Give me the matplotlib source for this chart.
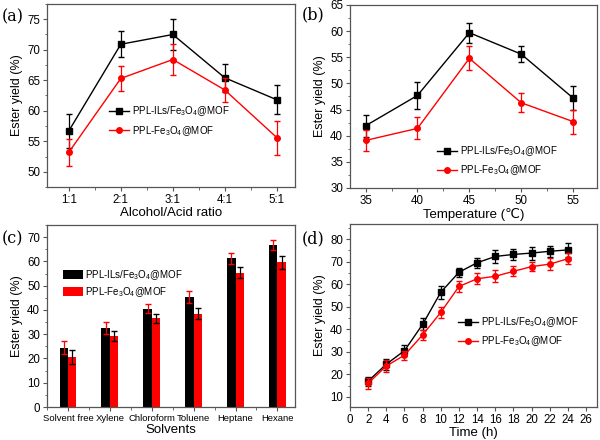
import numpy as np
import matplotlib
matplotlib.use('Agg')
import matplotlib.pyplot as plt
from matplotlib.ticker import MultipleLocator

plt.rcParams['font.family'] = ['Liberation Sans', 'DejaVu Sans']
plt.rcParams['mathtext.fontset'] = 'custom'
plt.rcParams['mathtext.rm'] = 'Liberation Sans'

lab_ils = r'PPL-ILs/Fe$_3$O$_4$@MOF'
lab_fe = r'PPL-Fe$_3$O$_4$@MOF'

# (a) alcohol/acid ratio
ratio_labels = ['1:1', '2:1', '3:1', '4:1', '5:1']
ratio_ils = [56.7, 70.9, 72.5, 65.4, 61.8]
ratio_ils_err = [2.8, 2.1, 2.5, 2.3, 2.4]
ratio_fe = [53.2, 65.3, 68.4, 63.4, 55.6]
ratio_fe_err = [2.2, 2.1, 2.5, 1.9, 2.8]

# (b) temperature
temps = [35, 40, 45, 50, 55]
temp_ils = [41.9, 47.7, 59.7, 55.6, 47.2]
temp_ils_err = [2.1, 2.6, 1.9, 1.5, 2.3]
temp_fe = [39.1, 41.4, 54.8, 46.3, 42.7]
temp_fe_err = [2.0, 2.1, 2.3, 1.8, 2.3]

# (c) solvents
solvents = ['Solvent free', 'Xylene', 'Chloroform', 'Toluene', 'Heptane', 'Hexane']
solv_ils = [24.5, 32.5, 40.5, 45.3, 61.2, 66.7]
solv_ils_err = [2.5, 2.5, 1.8, 2.3, 2.2, 2.0]
solv_fe = [20.7, 29.2, 36.5, 38.5, 55.4, 59.6]
solv_fe_err = [2.8, 2.2, 2.0, 2.3, 2.3, 2.8]

# (d) time
times = [2, 4, 6, 8, 10, 12, 14, 16, 18, 20, 22, 24]
time_ils = [17.0, 24.5, 30.5, 42.2, 56.4, 65.3, 69.5, 72.3, 73.2, 73.8, 74.6, 75.2]
time_ils_err = [2.0, 2.5, 2.5, 2.7, 2.8, 2.0, 2.3, 2.7, 2.5, 2.9, 2.4, 3.0]
time_fe = [16.0, 23.7, 28.5, 37.5, 47.5, 59.0, 62.4, 63.5, 65.7, 67.8, 68.9, 71.3]
time_fe_err = [2.5, 2.5, 2.0, 2.3, 2.3, 2.4, 2.4, 2.6, 2.2, 2.1, 2.5, 2.4]

fig = plt.figure(figsize=(6, 4.4), dpi=100)
ax_a = fig.add_axes([47/600, 1-187/440, 248/600, 183/440])
ax_b = fig.add_axes([350/600, 1-188/440, 247/600, 183/440])
ax_c = fig.add_axes([47/600, 1-407/440, 248/600, 182/440])
ax_d = fig.add_axes([350/600, 1-407/440, 247/600, 183/440])

XL = 9.5
YL = 9
TK = 8.3


def style(ax):
    for s in ax.spines.values():
        s.set_color('#555555')
        s.set_linewidth(0.9)
    ax.tick_params(which='both', direction='out', colors='#555555',
                   labelcolor='black', labelsize=TK, top=False, right=False,
                   pad=2)
    ax.tick_params(which='major', length=3)
    ax.tick_params(which='minor', length=1.8)


def lines(ax, x, y1, e1, y2, e2):
    ax.errorbar(x, y1, yerr=e1, fmt='none', ecolor='black', capsize=2.5,
                elinewidth=0.9)
    ax.plot(x, y1, color='black', marker='s', ms=4, lw=1, label=lab_ils)
    ax.errorbar(x, y2, yerr=e2, fmt='none', ecolor='red', capsize=2.5,
                elinewidth=0.9)
    ax.plot(x, y2, color='red', marker='o', ms=4, lw=1, label=lab_fe)


def add_legend(ax, x, y, **kw):
    opts = dict(loc='center left', bbox_to_anchor=(x, y), frameon=False,
                fontsize=7, handlelength=2.1, labelspacing=0.55,
                handletextpad=0.25, borderpad=0, borderaxespad=0)
    opts.update(kw)
    ax.legend(**opts)


# (a)
xa = np.arange(1, len(ratio_labels) + 1)
lines(ax_a, xa, ratio_ils, ratio_ils_err, ratio_fe, ratio_fe_err)
ax_a.set_xlim(0.58, 5.35)
ax_a.set_ylim(47.5, 77.5)
ax_a.set_xticks(xa)
ax_a.set_xticklabels(ratio_labels)
ax_a.xaxis.set_minor_locator(MultipleLocator(0.5))
ax_a.yaxis.set_major_locator(MultipleLocator(5))
ax_a.yaxis.set_minor_locator(MultipleLocator(2.5))
ax_a.set_xlabel('Alcohol/Acid ratio', fontsize=XL, labelpad=1)
ax_a.set_ylabel('Ester yield (%)', fontsize=YL, labelpad=3)
add_legend(ax_a, 0.25, 0.36)
style(ax_a)

# (b)
lines(ax_b, temps, temp_ils, temp_ils_err, temp_fe, temp_fe_err)
ax_b.set_xlim(33.5, 57.3)
ax_b.set_ylim(30, 65)
ax_b.xaxis.set_major_locator(MultipleLocator(5))
ax_b.xaxis.set_minor_locator(MultipleLocator(2.5))
ax_b.yaxis.set_major_locator(MultipleLocator(5))
ax_b.yaxis.set_minor_locator(MultipleLocator(2.5))
ax_b.set_xlabel('Temperature (\u2103)', fontsize=XL, labelpad=1)
ax_b.set_ylabel('Ester yield (%)', fontsize=YL, labelpad=3)
add_legend(ax_b, 0.352, 0.15)
style(ax_b)

# (c)
xc = np.arange(1, len(solvents) + 1)
w = 0.2
ax_c.bar(xc - w/2, solv_ils, w, color='black', label=lab_ils)
ax_c.bar(xc + w/2, solv_fe, w, color='red', label=lab_fe)
ax_c.errorbar(xc - w/2, solv_ils, yerr=solv_ils_err, fmt='none', ecolor='red',
              capsize=2.5, elinewidth=0.9)
ax_c.errorbar(xc + w/2, solv_fe, yerr=solv_fe_err, fmt='none', ecolor='black',
              capsize=2.5, elinewidth=0.9)
ax_c.set_xlim(0.5, 6.42)
ax_c.set_ylim(0, 75)
ax_c.set_xticks(xc)
ax_c.set_xticklabels(solvents)
ax_c.xaxis.set_minor_locator(MultipleLocator(0.5))
ax_c.yaxis.set_major_locator(MultipleLocator(10))
ax_c.yaxis.set_minor_locator(MultipleLocator(5))
ax_c.set_xlabel('Solvents', fontsize=XL, labelpad=1)
ax_c.set_ylabel('Ester yield (%)', fontsize=YL, labelpad=3)
add_legend(ax_c, 0.065, 0.68, handlelength=2.0, handleheight=1.1,
           labelspacing=0.35)
style(ax_c)
ax_c.tick_params(axis='x', labelsize=6.8)

# (d)
lines(ax_d, times, time_ils, time_ils_err, time_fe, time_fe_err)
ax_d.set_xlim(0, 27.2)
ax_d.set_ylim(5.5, 86.7)
ax_d.xaxis.set_major_locator(MultipleLocator(2))
ax_d.yaxis.set_major_locator(MultipleLocator(10))
ax_d.yaxis.set_minor_locator(MultipleLocator(5))
ax_d.set_xlabel('Time (h)', fontsize=XL, labelpad=1)
ax_d.set_ylabel('Ester yield (%)', fontsize=YL, labelpad=3)
add_legend(ax_d, 0.437, 0.41)
style(ax_d)

for t, x, y in [('(a)', 2, 8), ('(b)', 302, 6),
                ('(c)', 2, 230), ('(d)', 302, 230)]:
    fig.text(x/600, 1-y/440, t, family='DejaVu Serif', fontsize=11.5,
             va='top', ha='left')

fig.savefig('out.png', dpi=100)
